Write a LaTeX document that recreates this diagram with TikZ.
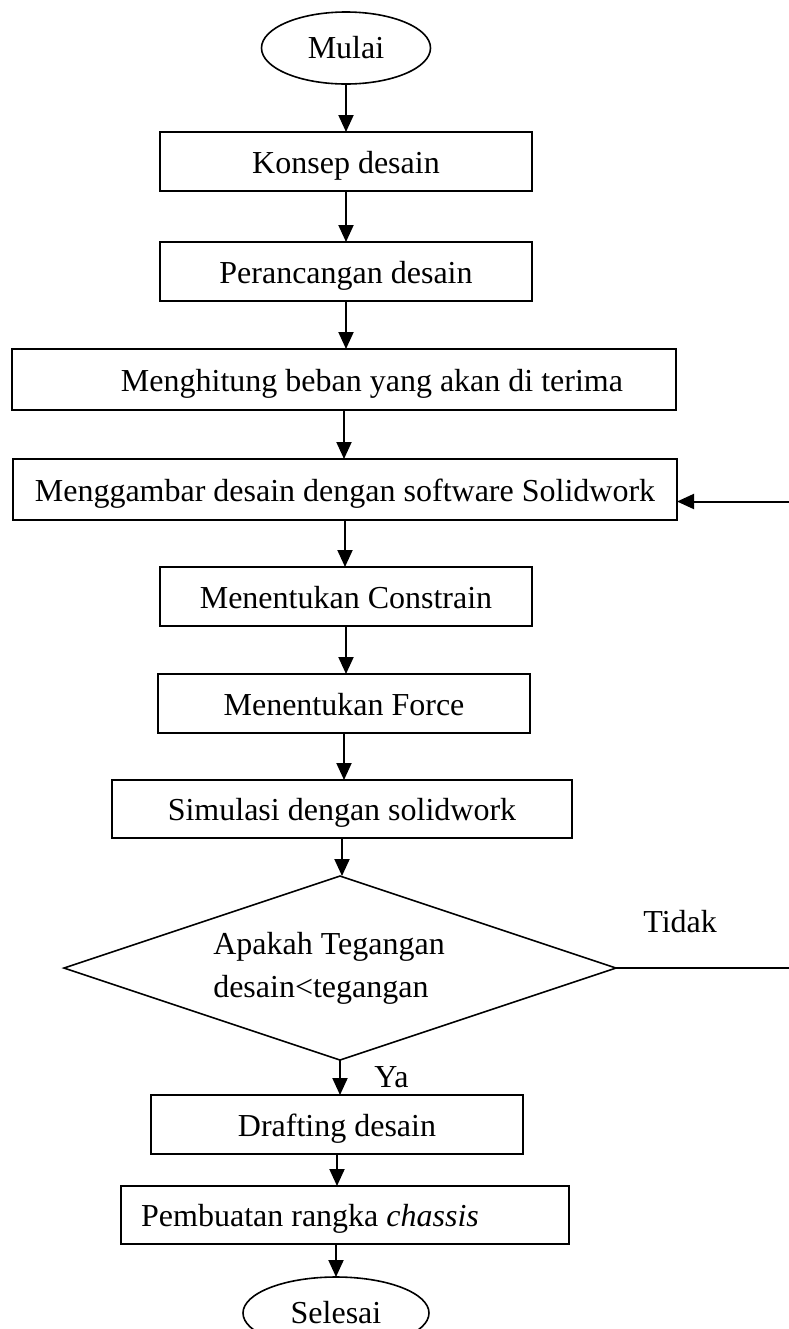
\documentclass[tikz,border=0pt]{standalone}
\usepackage{fontspec}
\setmainfont{Liberation Serif}
\usetikzlibrary{positioning, arrows.meta, shapes.geometric}

\begin{document}
\begin{tikzpicture}[
  term/.style={draw, ellipse, minimum width=84.5pt, minimum height=36pt,
               line width=0.8pt, inner sep=0pt, outer sep=0pt,
               font=\fontsize{16}{21.5}\selectfont},
  proc/.style={draw, rectangle, minimum width=186pt, minimum height=29.5pt,
               line width=0.8pt, inner sep=0pt, outer sep=0pt,
               text height=15pt, text depth=3.5pt,
               font=\fontsize{16}{21.5}\selectfont},
  wide/.style={proc, minimum width=332pt, minimum height=30.5pt},
  decision/.style={draw, diamond, aspect=3, minimum width=276pt, minimum height=92pt,
                   line width=0.8pt, inner sep=0pt, outer sep=0pt, align=left,
                   font=\fontsize{16}{21.5}\selectfont},
  arr/.style={-{Triangle[length=8.5pt, width=7.5pt]}, line width=1pt},
  lbl/.style={inner sep=0pt, font=\fontsize{16}{21.5}\selectfont},
]

% === Page frame ===
\useasboundingbox (0,0) rectangle (394pt,-664.5pt);

% === Main column ===
\node[term] (mulai) at (173pt,-24pt) {Mulai};
\node[proc, below=24pt of mulai] (konsep) {Konsep desain};
\node[proc, below=25.5pt of konsep] (rancang) {Perancangan desain};
\node[wide, below=24pt of rancang, xshift=-1pt] (hitung)
     {\hspace*{28pt}Menghitung beban yang akan di terima};
\node[wide, below=24.5pt of hitung, xshift=0.5pt] (gambar)
     {Menggambar desain dengan software Solidwork};
\node[proc, below=23.5pt of gambar, xshift=0.5pt] (constrain) {Menentukan Constrain};
\node[proc, below=24pt of constrain, xshift=-1pt] (force) {Menentukan Force};
\node[proc, minimum width=230pt, minimum height=29pt,
      below=23.5pt of force, xshift=-1pt] (simulasi) {Simulasi dengan solidwork};

% === Decision ===
\node[decision, below=19pt of simulasi, xshift=-1pt] (cek)
     {Apakah Tegangan\hspace*{11pt}\\desain<tegangan};

\node[proc, below=17.5pt of cek, xshift=-1.5pt] (drafting) {Drafting desain};
\node[proc, minimum width=224pt, minimum height=29pt,
      below=16pt of drafting, xshift=4pt] (rangka)
     {Pembuatan rangka \textit{chassis}\hspace*{35pt}};
\node[term, minimum width=93pt, below=16.5pt of rangka, xshift=-4.5pt] (selesai) {Selesai};

% === Labels of the decision ===
\node[lbl, above right=17.5pt and 13.5pt of cek.east] (tidak) {Tidak};
\node[lbl, below right=3pt and 17pt of cek.south] (ya) {Ya};

% === Arrows ===
\draw[arr] (mulai.south) -- (mulai.south |- konsep.north);
\draw[arr] (konsep.south) -- (konsep.south |- rancang.north);
\draw[arr] (rancang.south) -- (rancang.south |- hitung.north);
\draw[arr] (hitung.south) -- (hitung.south |- gambar.north);
\draw[arr] (gambar.south) -- (gambar.south |- constrain.north);
\draw[arr] (constrain.south) -- (constrain.south |- force.north);
\draw[arr] (force.south) -- (force.south |- simulasi.north);
\draw[arr] (simulasi.south) -- (simulasi.south |- cek.north);
\draw[arr] (cek.south) -- (cek.south |- drafting.north);
\draw[arr] (drafting.south) -- (drafting.south |- rangka.north);
\draw[arr] (selesai.north |- rangka.south) -- (selesai.north);

% Tidak -> back to Menggambar
\draw[arr] (cek.east) -- ++(89pt,0) |- ([yshift=-6pt]gambar.east);

\end{tikzpicture}
\end{document}
